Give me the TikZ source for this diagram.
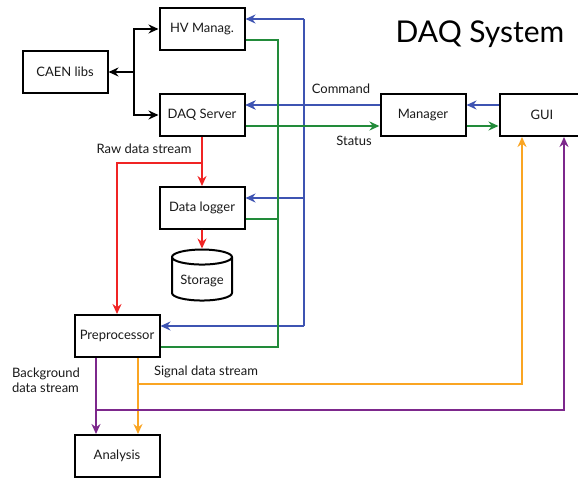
\documentclass[tikz,border=0pt]{standalone}
\usepackage{fontspec}
\setmainfont{Lato}
\usetikzlibrary{arrows.meta,shapes.geometric,calc}
\definecolor{CmdBlue}{RGB}{62,84,178}
\definecolor{StatGreen}{RGB}{34,139,58}
\definecolor{RawRed}{RGB}{240,36,36}
\definecolor{SigOrange}{RGB}{250,165,35}
\definecolor{BkgPurple}{RGB}{125,40,140}
\tikzset{%
  ModuleStyle/.style={draw,line width=2pt,minimum width=85pt,minimum height=42pt,font=\fontsize{13}{15}\selectfont,text=black!90},
  LinkStyle/.style={line width=1.6pt,-{Stealth[length=10pt,width=9pt]}},
  BusStyle/.style={line width=1.6pt},
  LabelStyle/.style={font=\fontsize{13}{15}\selectfont,inner sep=1pt,text=black!90}
}

\begin{document}
\begin{tikzpicture}[x=1pt,y=-1pt]
  \useasboundingbox (0,0) rectangle (578,478);
  % modules
  \node[ModuleStyle] (hv) at (202,29) {HV Manag.};
  \node[ModuleStyle] (caen) at (65,72) {CAEN libs};
  \node[ModuleStyle] (server) at (202,115) {DAQ Server};
  \node[ModuleStyle] (logger) at (202,208) {Data logger};
  \node[ModuleStyle,cylinder,shape border rotate=90,aspect=0.3,
    minimum width=60pt,minimum height=51pt] (storage) at (202,281) {Storage};
  \node[ModuleStyle] (prep) at (117,336) {Preprocessor};
  \node[ModuleStyle] (analysis) at (117,456) {Analysis};
  \node[ModuleStyle] (manager) at (423,115) {Manager};
  \node[ModuleStyle] (gui) at (542,115) {GUI};
  \node[font=\fontsize{30}{34}\selectfont,anchor=base] (title) at (480,43) {DAQ System};
  % CAEN libs
  \coordinate (fork) at (134,72);
  \draw[LinkStyle,line width=2pt] (fork) -- (caen.east);
  \draw[LinkStyle,line width=2pt] (fork) |- (hv.west);
  \draw[LinkStyle,line width=2pt] (fork) |- (server.west);
  % commands
  \coordinate (cmdbus) at (304,0);
  \foreach \mod in {hv,server,logger,prep}{
    \coordinate (\mod cmd) at ([yshift=10pt]\mod.east);
    \draw[LinkStyle,CmdBlue] (cmdbus |- \mod cmd) -- (\mod cmd);
  }
  \draw[BusStyle,CmdBlue] (cmdbus |- hvcmd) -- (cmdbus |- prepcmd);
  \draw[LinkStyle,CmdBlue] (servercmd -| manager.west) -- (servercmd);
  \draw[LinkStyle,CmdBlue] (servercmd -| gui.west) -- (servercmd -| manager.east);
  \node[LabelStyle] (cmdlabel) at (341,89) {Command};
  % status
  \coordinate (statbus) at (278,0);
  \foreach \mod in {hv,server,logger,prep}{
    \coordinate (\mod stat) at ([yshift=-11pt]\mod.east);
  }
  \draw[BusStyle,StatGreen] (hvstat) -| (statbus |- prepstat) -- (prepstat);
  \draw[BusStyle,StatGreen] (loggerstat) -- (statbus |- loggerstat);
  \draw[LinkStyle,StatGreen] (serverstat) -- (serverstat -| manager.west);
  \draw[LinkStyle,StatGreen] (serverstat -| manager.east) -- (serverstat -| gui.west);
  \node[LabelStyle] (statlabel) at (354,141) {Status};
  % raw data
  \coordinate (rawfork) at (202,163);
  \draw[LinkStyle,RawRed] (server.south) -- (logger.north);
  \draw[LinkStyle,RawRed] (rawfork) -| (prep.north);
  \draw[LinkStyle,RawRed] (logger.south) -- (storage.north);
  \node[LabelStyle] (rawlabel) at (144,149) {Raw data stream};
  % signal / background
  \coordinate (sigout) at ([xshift=21pt]prep.south);
  \coordinate (bkgout) at ([xshift=-21pt]prep.south);
  \path (sigout) ++(0,26) coordinate (sigfork);
  \path (bkgout) ++(0,52) coordinate (bkgfork);
  \draw[LinkStyle,SigOrange] (sigout) -- (sigout |- analysis.north);
  \draw[LinkStyle,SigOrange] (sigfork) -| ([xshift=-20pt]gui.south);
  \draw[LinkStyle,BkgPurple] (bkgout) -- (bkgout |- analysis.north);
  \draw[LinkStyle,BkgPurple] (bkgfork) -| ([xshift=22pt]gui.south);
  \node[LabelStyle] (siglabel) at (206,372) {Signal data stream};
  \node[LabelStyle,align=left] (bkglabel) at (46,380) {Background\\data stream};
\end{tikzpicture}
\end{document}
